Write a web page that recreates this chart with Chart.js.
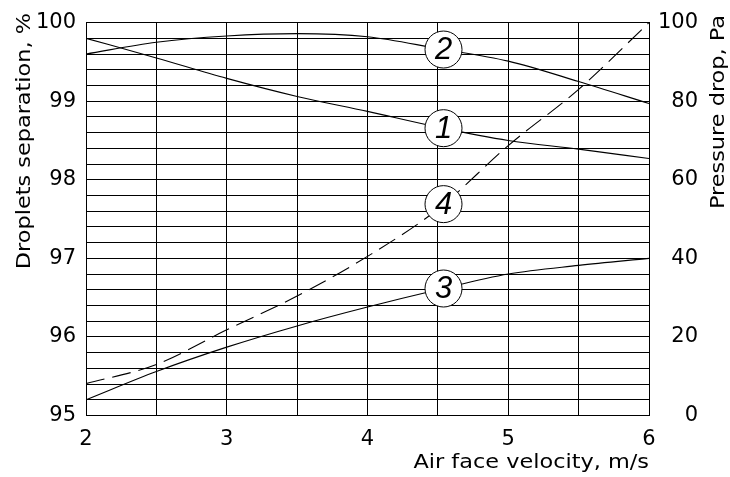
<!DOCTYPE html>
<html><head><meta charset="utf-8">
<script src="https://cdn.jsdelivr.net/npm/chart.js@4/dist/chart.umd.min.js"></script>
<style>html,body{margin:0;padding:0;background:#fff}#wrap{width:730px;height:477px}</style>
</head><body><div id="wrap"><canvas id="c" width="730" height="477"></canvas></div>
<script>
// ---- data ----
const velocity = [2, 2.5, 3, 3.5, 4, 4.5, 5, 5.5, 6];
const separation1 = [99.8, 99.55, 99.29, 99.06, 98.87, 98.67, 98.50, 98.39, 98.27];
const separation2 = [99.6, 99.75, 99.83, 99.86, 99.82, 99.67, 99.51, 99.25, 98.97];
const separation3 = [95.2, 95.56, 95.87, 96.14, 96.38, 96.6, 96.8, 96.91, 97.0];
const pressureDrop4 = [8.1, 13, 21.8, 30.4, 40.5, 52.5, 68.7, 83, 100];
const curveLabels = ['1', '2', '3', '4'];
const labelVelocity = 4.54;
const xTickLabels = [2, 3, 4, 5, 6];
const leftTickLabels = [95, 96, 97, 98, 99, 100];
const rightTickLabels = [0, 20, 40, 60, 80, 100];
const xTitle = 'Air face velocity, m/s';
const leftTitle = 'Droplets separation, %';
const rightTitle = 'Pressure drop, Pa';

const FONT = '"DejaVu Sans", Verdana, sans-serif';
const pts = arr => velocity.map((v, i) => ({x: v, y: arr[i]}));
const lineDs = (label, arr, axis, dash) => ({
  label, data: pts(arr), yAxisID: axis, borderColor: '#000', borderWidth: 1.1,
  borderDash: dash || [], pointRadius: 0, fill: false, cubicInterpolationMode: 'monotone'
});
const tickCb = list => v => { const r = Math.round(v); return (Math.abs(v - r) < 1e-6 && list.includes(r)) ? String(r) : ''; };

function interp(data, x) {
  for (let i = 0; i < data.length - 1; i++) {
    if (x >= data[i].x && x <= data[i + 1].x) {
      const t = (x - data[i].x) / (data[i + 1].x - data[i].x);
      return data[i].y + t * (data[i + 1].y - data[i].y);
    }
  }
  return data[data.length - 1].y;
}

function stretchedText(ctx, text, x, y, rot, sx) {
  ctx.save();
  ctx.translate(x, y);
  ctx.rotate(rot);
  ctx.scale(sx, 1);
  ctx.textAlign = 'right';
  ctx.fillText(text, 0, 0);
  ctx.restore();
}

const decor = {
  id: 'decor',
  afterDatasetsDraw(chart) {
    const ctx = chart.ctx, xs = chart.scales.x;
    chart.data.datasets.forEach(ds => {
      const ys = chart.scales[ds.yAxisID];
      const px = xs.getPixelForValue(labelVelocity);
      const py = ys.getPixelForValue(interp(ds.data, labelVelocity));
      ctx.save();
      ctx.beginPath(); ctx.arc(px, py, 18.5, 0, Math.PI * 2);
      ctx.fillStyle = '#fff'; ctx.fill();
      ctx.lineWidth = 1; ctx.strokeStyle = '#000'; ctx.stroke();
      ctx.fillStyle = '#000'; ctx.font = 'italic 31px "Liberation Sans", Arial, sans-serif';
      ctx.textAlign = 'center'; ctx.textBaseline = 'middle';
      ctx.fillText(ds.label, px, py + 1);
      ctx.restore();
    });
  },
  afterDraw(chart) {
    const ctx = chart.ctx, a = chart.chartArea;
    ctx.save();
    ctx.fillStyle = '#000'; ctx.font = '20px ' + FONT;
    ctx.textBaseline = 'alphabetic';
    stretchedText(ctx, xTitle, a.right, 468, 0, 1.12);
    stretchedText(ctx, leftTitle, 30, 13, -Math.PI / 2, 1.12);
    stretchedText(ctx, rightTitle, 724, 15, -Math.PI / 2, 1.12);
    ctx.restore();
  }
};

new Chart(document.getElementById('c'), {
  type: 'line',
  data: {
    datasets: [
      lineDs(curveLabels[0], separation1, 'y'),
      lineDs(curveLabels[1], separation2, 'y'),
      lineDs(curveLabels[2], separation3, 'y'),
      lineDs(curveLabels[3], pressureDrop4, 'y1', [19, 8])
    ]
  },
  options: {
    responsive: false, animation: false,
    layout: {padding: {top: 19, left: 0, right: 32, bottom: 0}},
    plugins: {legend: {display: false}, tooltip: {enabled: false}},
    scales: {
      x: {
        type: 'linear', min: 2, max: 6,
        afterFit: s => { s.height = 61.5; },
        grid: {color: '#000', lineWidth: 1, drawTicks: false},
        border: {display: true, color: '#000'},
        ticks: {stepSize: 0.5, autoSkip: false, maxRotation: 0, padding: 11, color: '#000',
          font: {family: FONT, size: 21}, callback: tickCb(xTickLabels)}
      },
      y: {
        position: 'left', min: 95, max: 100,
        afterFit: s => { s.width = 86; },
        grid: {color: '#000', lineWidth: 1, drawTicks: false},
        border: {display: true, color: '#000'},
        ticks: {stepSize: 0.2, autoSkip: false, padding: 10, color: '#000',
          font: {family: FONT, size: 21}, callback: tickCb(leftTickLabels)}
      },
      y1: {
        position: 'right', min: 0, max: 100,
        afterFit: s => { s.width = 49; },
        grid: {display: false, drawTicks: false},
        border: {display: true, color: '#000'},
        ticks: {stepSize: 20, autoSkip: false, padding: 10, crossAlign: 'far', color: '#000',
          font: {family: FONT, size: 21}, callback: tickCb(rightTickLabels)}
      }
    }
  },
  plugins: [decor]
});
</script></body></html>
